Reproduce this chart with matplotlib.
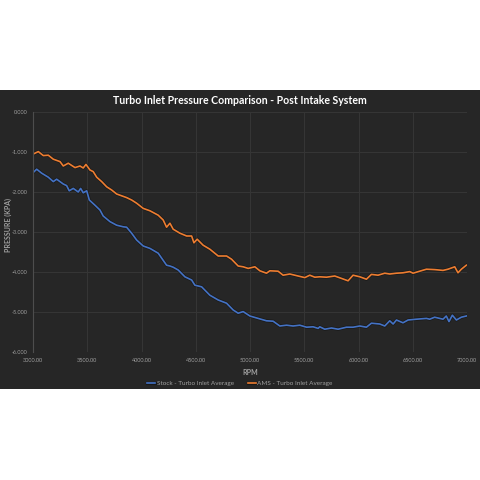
import numpy as np
import matplotlib.pyplot as plt
import matplotlib.patheffects as pe
from matplotlib.patches import Rectangle

# RPM / pressure (kPa)
stock_rpm = [3003, 3034, 3080, 3141, 3187, 3218, 3279, 3310, 3334, 3371, 3417, 3439, 3463, 3495,
             3519, 3571, 3617, 3647, 3709, 3771, 3832, 3863, 3909, 3955, 4016, 4078, 4154, 4231,
             4262, 4292, 4338, 4400, 4462, 4492, 4554, 4630, 4707, 4784, 4845, 4891, 4937, 4999,
             5075, 5152, 5213, 5275, 5337, 5397, 5459, 5521, 5582, 5628, 5643, 5689, 5751, 5812,
             5889, 5950, 6012, 6073, 6119, 6196, 6242, 6288, 6319, 6350, 6410, 6457, 6534, 6626,
             6656, 6702, 6779, 6809, 6834, 6865, 6902, 6948, 6994]
stock_kpa = [-1.51, -1.43, -1.53, -1.63, -1.74, -1.68, -1.80, -1.84, -1.97, -1.91, -2.00, -1.91, -2.02, -1.97,
             -2.20, -2.33, -2.45, -2.60, -2.74, -2.83, -2.87, -2.88, -3.03, -3.20, -3.35, -3.41, -3.53, -3.83,
             -3.85, -3.88, -3.95, -4.12, -4.20, -4.33, -4.37, -4.58, -4.70, -4.78, -4.95, -5.03, -4.99, -5.10,
             -5.16, -5.22, -5.23, -5.35, -5.33, -5.35, -5.33, -5.38, -5.37, -5.41, -5.37, -5.43, -5.40, -5.43,
             -5.38, -5.38, -5.35, -5.38, -5.28, -5.30, -5.35, -5.22, -5.30, -5.20, -5.27, -5.20, -5.18, -5.16,
             -5.18, -5.13, -5.18, -5.10, -5.24, -5.08, -5.20, -5.13, -5.10]

ams_rpm = [3003, 3049, 3095, 3141, 3187, 3249, 3279, 3325, 3387, 3433, 3463, 3488, 3525, 3555,
           3587, 3633, 3679, 3725, 3771, 3863, 3909, 3955, 4016, 4078, 4154, 4200, 4231, 4262,
           4292, 4354, 4416, 4462, 4483, 4513, 4568, 4630, 4707, 4784, 4830, 4891, 4937, 4983,
           5045, 5091, 5152, 5183, 5259, 5305, 5367, 5443, 5505, 5551, 5597, 5643, 5705, 5781,
           5843, 5904, 5950, 6012, 6073, 6119, 6180, 6242, 6288, 6350, 6410, 6472, 6503, 6564,
           6626, 6702, 6779, 6825, 6887, 6917, 6948, 6994]
ams_kpa = [-1.05, -0.99, -1.09, -1.08, -1.18, -1.24, -1.35, -1.28, -1.39, -1.35, -1.40, -1.31, -1.45, -1.49,
           -1.63, -1.74, -1.87, -1.95, -2.05, -2.14, -2.20, -2.28, -2.41, -2.47, -2.58, -2.70, -2.88, -2.78,
           -2.93, -3.03, -3.10, -3.10, -3.27, -3.18, -3.33, -3.43, -3.60, -3.60, -3.68, -3.85, -3.87, -3.91,
           -3.87, -3.97, -4.03, -3.97, -3.98, -4.08, -4.05, -4.10, -4.14, -4.08, -4.13, -4.12, -4.13, -4.10,
           -4.16, -4.22, -4.08, -4.12, -4.18, -4.06, -4.08, -4.03, -4.05, -4.03, -4.02, -3.99, -4.03, -3.98,
           -3.93, -3.94, -3.96, -3.93, -3.87, -4.02, -3.93, -3.83]

xticks = np.arange(3000, 7001, 500)
yticks = np.arange(-6, 0.01, 1)

bg = '#262626'
grid_c = '#353535'
txt_c = '#a0a0a0'
font = 'Lato'

fig = plt.figure(figsize=(4.8, 4.8), dpi=100, facecolor='white')
# dark chart panel
fig.patches.append(Rectangle((0, 1 - 389/480), 1, (389 - 90)/480, transform=fig.transFigure,
                             facecolor=bg, edgecolor='none', zorder=-5))

ax = fig.add_axes([33/480, 1 - 352/480, (467 - 33)/480, (352 - 112)/480])
ax.set_zorder(2)
ax.set_facecolor(bg)
shadow = [pe.Stroke(linewidth=2.3, foreground='#111111', alpha=0.6), pe.Normal()]
ax.plot(stock_rpm, stock_kpa, color='#4472c4', lw=1.2, label='Stock - Turbo Inlet Average', path_effects=shadow)
ax.plot(ams_rpm, ams_kpa, color='#ed7d31', lw=1.2, label='AMS - Turbo Inlet Average', path_effects=shadow)

ax.set_xlim(3000, 7000)
ax.set_ylim(-6, 0)
ax.set_xticks(xticks)
ax.set_xticklabels(['%.2f' % v for v in xticks])
ax.set_yticks(yticks)
ax.set_yticklabels(['%.3f' % v for v in yticks])
ax.grid(True, color=grid_c, lw=0.8)
ax.set_axisbelow(True)
for s in ['top', 'right', 'bottom']:
    ax.spines[s].set_visible(False)
ax.spines['left'].set_color('#4d4d4d')
ax.tick_params(length=0, labelsize=4, colors=txt_c, pad=4)
for lab in ax.get_xticklabels() + ax.get_yticklabels():
    lab.set_family(font)

ax.set_xlabel('RPM', fontsize=5, color=txt_c, family=font, fontweight='bold')
ax.xaxis.set_label_coords((250 - 33)/434, -(369 - 352)/240)
ax.set_ylabel('PRESSURE (KPA)', fontsize=5, color=txt_c, family=font, fontweight='bold')
ax.yaxis.set_label_coords(-(33 - 12)/434, (352 - 225)/240)

fig.text(0.5, 1 - 100/480, 'Turbo Inlet Pressure Comparison - Post Intake System', ha='center', va='center',
         fontsize=7.6, fontweight='bold', color='white', family=font)

leg = fig.legend(loc='center', bbox_to_anchor=(0.5, 1 - 383/480), ncol=2, frameon=False,
                 prop={'family': font, 'size': 4.6}, handlelength=1.3, handletextpad=0.2, columnspacing=2.2)
for t in leg.get_texts():
    t.set_color(txt_c)

fig.savefig('out.png', dpi=100, facecolor='white')
